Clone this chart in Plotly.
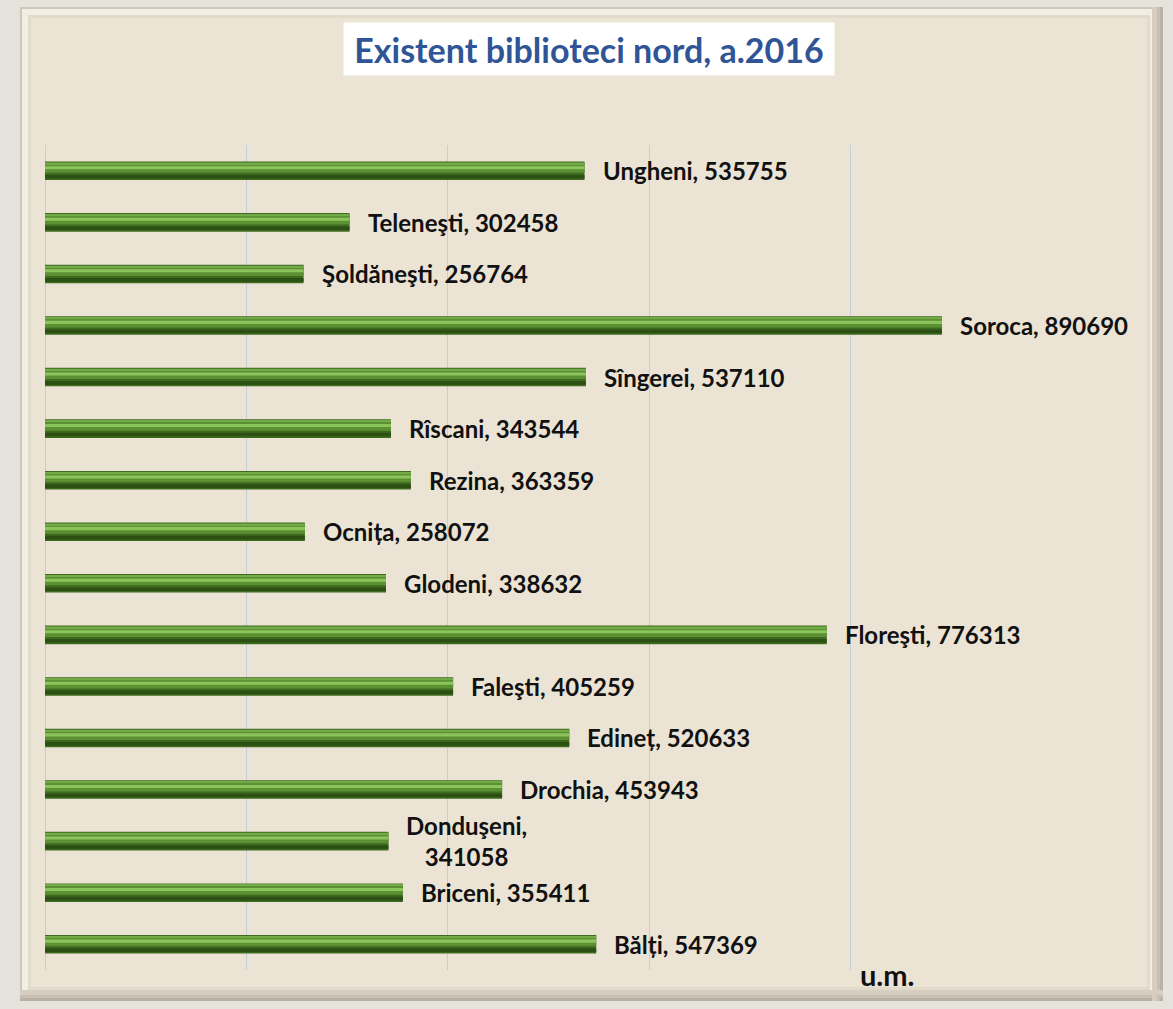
import plotly.graph_objects as go

# date: biblioteci nord, 2016
raioane = ["Bălți", "Briceni", "Donduşeni", "Drochia", "Edineț", "Faleşti", "Floreşti", "Glodeni",
           "Ocnița", "Rezina", "Rîscani", "Sîngerei", "Soroca", "Şoldăneşti", "Teleneşti", "Ungheni"]
existent = [547369, 355411, 341058, 453943, 520633, 405259, 776313, 338632,
            258072, 363359, 343544, 537110, 890690, 256764, 302458, 535755]
etichete_rupte = ["Donduşeni"]  # eticheta pe doua randuri
titlu = "Existent biblioteci nord, a.2016"

W, H = 1173, 1009
L, R, T, B = 45, 1052, 145, 970  # zona graficului in pixeli


def px(x):
    return (x - L) / (R - L)


def py(y):
    return (B - y) / (B - T)


fig = go.Figure()

# bare "cilindrice": straturi suprapuse
straturi = [
    (-0.18, 0.36, "#3d6a1f"),
    (-0.15, 0.07, "#2c4f14"),
    (-0.04, 0.19, "#5b9132"),
    (0.03, 0.06, "#8cc45c"),
    (0.13, 0.03, "#73ab48"),
]
for off, wd, col in straturi:
    fig.add_trace(go.Bar(
        x=existent, y=raioane, orientation="h",
        offset=off, width=wd,
        marker=dict(color=col, line=dict(width=0)),
        hoverinfo="skip" if off != -0.18 else "x+y",
        showlegend=False))

for nume, val in zip(raioane, existent):
    sep = ",<br>" if nume in etichete_rupte else ", "
    fig.add_annotation(
        x=val, y=nume, text=f"<b>{nume}{sep}{val}</b>",
        xanchor="left", yanchor="middle", xshift=16, showarrow=False,
        align="center", font=dict(family="Lato", size=24, color="#111111"))

# titlul in caseta alba
fig.add_annotation(
    x=px(589), y=py(48.5), xref="paper", yref="paper",
    text=f"<b>{titlu}</b>", showarrow=False,
    xanchor="center", yanchor="middle",
    width=488, height=50, bgcolor="#ffffff",
    font=dict(family="Lato", size=34, color="#2f5597"))

fig.add_annotation(
    x=px(887), y=py(974), xref="paper", yref="paper",
    text="<b>u.m.</b>", showarrow=False,
    xanchor="center", yanchor="middle",
    font=dict(family="Lato", size=29, color="#111111"))

# rama cu relief
rama = [
    (20, 7, 1163, 1001, "#cfc7b8"),
    (22, 9, 1158, 996, "#f3eee3"),
    (28, 15, 1150, 990, "#e2dacb"),
    (31, 18, 1147, 987, "#ebe4d5"),
]
for x0, y0, x1, y1, col in rama:
    fig.add_shape(type="rect", xref="paper", yref="paper",
                  x0=px(x0), x1=px(x1), y0=py(y0), y1=py(y1),
                  fillcolor=col, line=dict(width=0), layer="below")
# umbra dreapta si jos
for i, col in enumerate(["#b9b1a3", "#c8c0b2", "#d6cfc1"]):
    fig.add_shape(type="rect", xref="paper", yref="paper",
                  x0=px(1158 - 3 * i), x1=px(1163 - 3 * i), y0=py(1001), y1=py(7),
                  fillcolor=col, line=dict(width=0), layer="below")
    fig.add_shape(type="rect", xref="paper", yref="paper",
                  x0=px(20), x1=px(1163), y0=py(1001 - 3 * i), y1=py(996 - 3 * i),
                  fillcolor=col, line=dict(width=0), layer="below")

fig.update_layout(
    width=W, height=H,
    margin=dict(l=L, r=W - R, t=T, b=H - B),
    paper_bgcolor="#e6e2dc",
    plot_bgcolor="rgba(0,0,0,0)",
    barmode="overlay",
    showlegend=False,
    xaxis=dict(range=[0, 1000000], dtick=200000, showticklabels=False,
               showgrid=True, gridcolor="#c6cdd8", gridwidth=1,
               zeroline=True, zerolinecolor="#c6cdd8", zerolinewidth=1,
               showline=False, fixedrange=True),
    yaxis=dict(categoryorder="array", categoryarray=raioane,
               range=[-0.5, len(raioane) - 0.5],
               showticklabels=False, showgrid=False, zeroline=False,
               showline=False, fixedrange=True),
)

fig.write_html("out.html", config={"displayModeBar": False},
               post_script="document.body.style.margin='0';document.body.style.background='#e6e2dc';")
